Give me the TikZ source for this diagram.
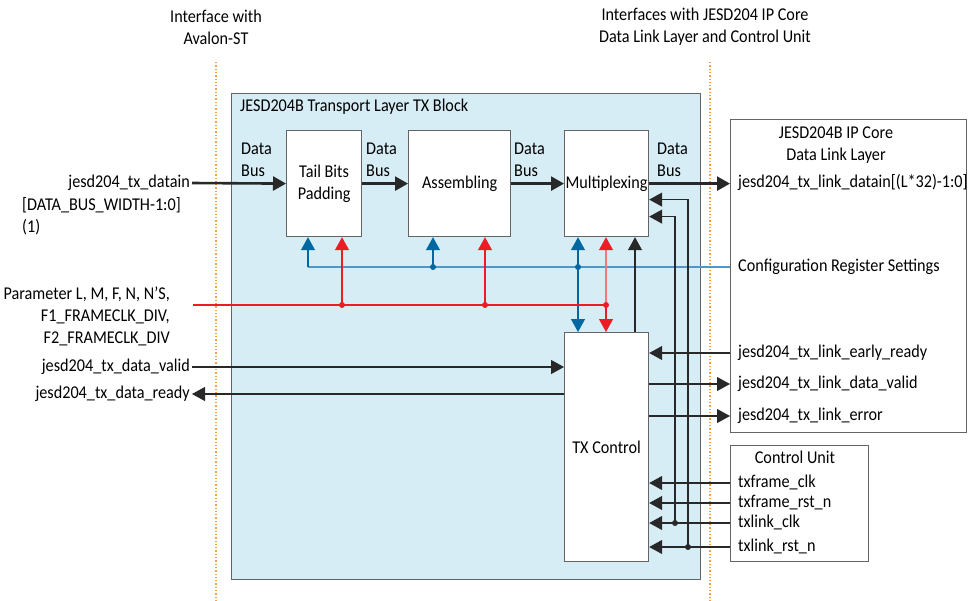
\documentclass[tikz,border=0pt]{standalone}
\usepackage{fontspec}
\setmainfont{Carlito}[FakeStretch=0.9]
\usetikzlibrary{arrows.meta,calc}
\definecolor{bluebg}{RGB}{214,237,245}
\definecolor{cblue}{RGB}{0,104,160}
\definecolor{cbluel}{RGB}{80,150,200}
\definecolor{cred}{RGB}{237,28,36}
\definecolor{corange}{RGB}{245,160,70}
\definecolor{cgray}{RGB}{100,100,100}
\definecolor{cline}{RGB}{40,40,40}
\begin{document}
\begin{tikzpicture}[x=1pt,y=-1pt,
  font=\fontsize{18}{22}\selectfont,
  every node/.style={inner sep=2pt},
  lbl/.style={text height=12pt,text depth=4pt},
  blk/.style={draw=cgray,fill=white,line width=1.2pt,anchor=north west,align=center,inner sep=0pt},
  arr/.style={-{Triangle[length=13pt,width=14pt]}},
  thinl/.style={cline,line width=1.2pt},
  bus/.style={cline,line width=2.6pt,-{Triangle[length=13pt,width=14pt]}},
  dot/.style={circle,fill,inner sep=0pt,minimum size=6pt},
  divider/.style={corange,dotted,line width=1.3pt}]
\useasboundingbox (0,0) rectangle (976,600);

% top labels and dividers
\node[align=center] (avl) at (216,27) {Interface with\\Avalon-ST};
\node[align=center] (jif) at (705,27) {Interfaces with JESD204 IP Core\\Data Link Layer and Control Unit};
\coordinate (dvA) at (216,62); \coordinate (dvB) at (710,62);
\draw[divider] (dvA) -- ++(0,538);

% transport layer block
\node[draw=cgray,fill=bluebg,line width=1.2pt,anchor=north west,minimum width=469pt,minimum height=486pt,inner sep=0pt] (tl) at (231,93) {};
\node[anchor=west] (tltitle) at (238,107) {JESD204B Transport Layer TX Block};
\draw[divider] (dvB) -- ++(0,538);

% blocks
\node[blk,minimum width=75pt,minimum height=106pt] (tbp) at (286,130) {Tail Bits\\Padding};
\node[blk,minimum width=102pt,minimum height=106pt] (asm) at (408,130) {Assembling};
\node[blk,minimum width=84pt,minimum height=106pt] (mux) at (564,130) {Multiplexing};
\node[blk,minimum width=84pt,minimum height=229pt] (txc) at (564,332) {TX Control};

% right boxes
\node[blk,minimum width=236pt,minimum height=313pt] (ipc) at (730,119) {};
\node[align=center] (ipct) at (836,145) {JESD204B IP Core\\Data Link Layer};
\node[blk,minimum width=138pt,minimum height=116pt] (cu) at (730,445) {};
\node (cut) at (795,457) {Control Unit};

% data bus labels
\node[anchor=west,align=left] (db1) at (239,160) {Data\\Bus};
\node[anchor=west,align=left] (db2) at (364,160) {Data\\Bus};
\node[anchor=west,align=left] (db3) at (512,160) {Data\\Bus};
\node[anchor=west,align=left] (db4) at (655,160) {Data\\Bus};

% left labels
\node[lbl,anchor=east] (din) at (192,183) {jesd204\_tx\_datain};
\node[anchor=west,align=left] (dinb) at (20,216) {[DATA\_BUS\_WIDTH-1:0]\\(1)};
\node[anchor=north east,align=right] (par) at (172,285) {Parameter L, M, F, N, N’S,\\F1\_FRAMECLK\_DIV,\\F2\_FRAMECLK\_DIV};
\node[lbl,anchor=east] (valid) at (192,367) {jesd204\_tx\_data\_valid};
\node[lbl,anchor=east] (ready) at (192,394) {jesd204\_tx\_data\_ready};

% right labels
\node[lbl,anchor=west] (ldat) at (736,183) {jesd204\_tx\_link\_datain[(L*32)-1:0]};
\node[lbl,anchor=west] (cfg) at (736,267) {Configuration Register Settings};
\node[lbl,anchor=west] (e1) at (736,353) {jesd204\_tx\_link\_early\_ready};
\node[lbl,anchor=west] (e2) at (736,384) {jesd204\_tx\_link\_data\_valid};
\node[lbl,anchor=west] (e3) at (736,416) {jesd204\_tx\_link\_error};
\node[lbl,anchor=west] (s1) at (736,483) {txframe\_clk};
\node[lbl,anchor=west] (s2) at (736,503) {txframe\_rst\_n};
\node[lbl,anchor=west] (s3) at (736,523) {txlink\_clk};
\node[lbl,anchor=west] (s4) at (736,547) {txlink\_rst\_n};

% data bus
\draw[bus] (din.east) -- (tbp.west);
\draw[bus] (tbp.east) -- (asm.west);
\draw[bus] (asm.east) -- (mux.west);
\draw[bus] (mux.east) -- (ipc.west |- mux.east);

% configuration (blue)
\coordinate (b1) at (308,267); \coordinate (b2) at (433,267); \coordinate (b3) at (578,267);
\draw[cbluel,line width=1.2pt] (b1) -- (ipc.west |- b1);
\draw[cblue,line width=1.2pt,arr] (b1) -- (b1 |- tbp.south);
\draw[cblue,line width=1.2pt,arr] (b2) -- (b2 |- asm.south);
\draw[cblue,line width=1.2pt,arr] (b3) -- (b3 |- mux.south);
\draw[cblue,line width=1.2pt,arr] (b3) -- (b3 |- txc.north);
\node[dot,cblue] (b2d) at (b2) {};
\node[dot,cblue] (b3d) at (b3) {};

% parameters (red)
\coordinate (r0) at (193,305); \coordinate (r1) at (342,305); \coordinate (r2) at (485,305); \coordinate (r3) at (606,305);
\draw[cred,line width=1.2pt] (r0) -- (r3);
\draw[cred,line width=1.2pt,arr] (r1) -- (r1 |- tbp.south);
\draw[cred,line width=1.2pt,arr] (r2) -- (r2 |- asm.south);
\draw[cred!60,line width=1.4pt] (r3) -- ($(r3 |- mux.south)+(0,8)$);
\draw[cred,line width=1.2pt,arr] ($(r3 |- mux.south)+(0,9)$) -- (r3 |- mux.south);
\draw[cred,line width=1.2pt,arr] (r3) -- (r3 |- txc.north);
\node[dot,cred] (r1d) at (r1) {};
\node[dot,cred] (r2d) at (r2) {};
\node[dot,cred] (r3d) at (r3) {};

% TX control to multiplexing
\draw[thinl,arr] ($(txc.north west)+(71,0)$) -- ($(mux.south west)+(71,0)$);

% clocks to multiplexing
\coordinate (j1) at (688,547); \coordinate (j2) at (675,523);
\draw[thinl,arr] (j1) |- ($(mux.east)+(0,16)$);
\draw[thinl,arr] (j2) |- ($(mux.east)+(0,33)$);
\node[dot,cline] (j1d) at (j1) {};
\node[dot,cline] (j2d) at (j2) {};

% IP core link signals
\draw[thinl,arr] (ipc.west |- e1) -- (txc.east |- e1);
\draw[thinl,arr] (txc.east |- e2) -- (ipc.west |- e2);
\draw[thinl,arr] (txc.east |- e3) -- (ipc.west |- e3);

% control unit signals
\draw[thinl,arr] (cu.west |- s1) -- (txc.east |- s1);
\draw[thinl,arr] (cu.west |- s2) -- (txc.east |- s2);
\draw[thinl,arr] (cu.west |- s3) -- (txc.east |- s3);
\draw[thinl,arr] (cu.west |- s4) -- (txc.east |- s4);

% Avalon-ST handshake
\draw[thinl,arr] (valid.east) -- (txc.west |- valid.east);
\draw[thinl,arr] (txc.west |- ready.east) -- (ready.east);
\end{tikzpicture}
\end{document}
